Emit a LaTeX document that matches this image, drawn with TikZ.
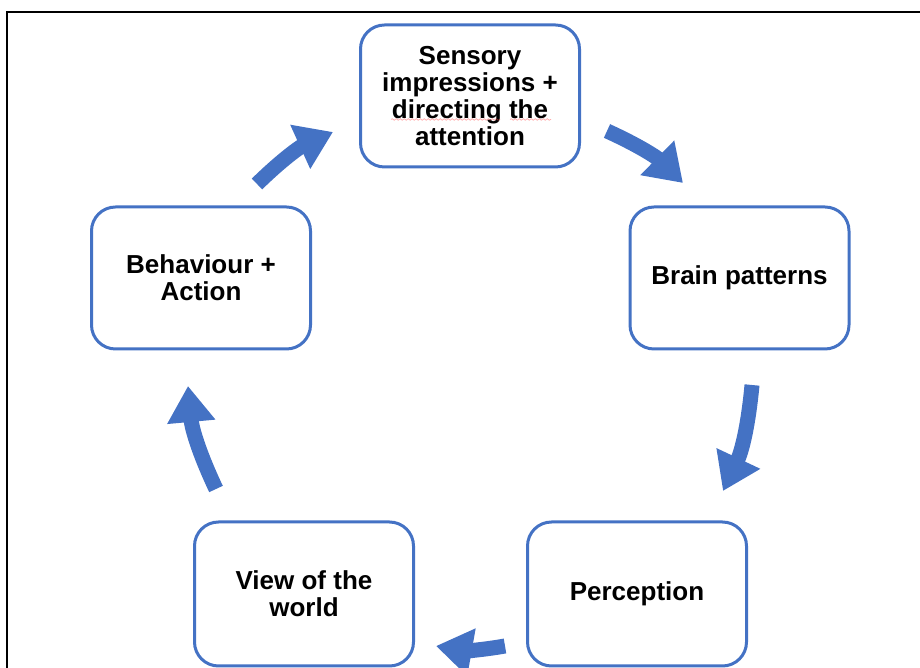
\documentclass[tikz,border=0pt]{standalone}
\usepackage{fontspec}
\setmainfont{Liberation Sans}
\usetikzlibrary{arrows.meta,decorations.pathmorphing}
\definecolor{accblue}{HTML}{4472C4}
\begin{document}
\begin{tikzpicture}[x=1pt,y=1pt,
  cyclebox/.style={draw=accblue, line width=3pt, rounded corners=24pt, fill=white,
    minimum width=219pt, minimum height=142pt, inner sep=0pt, align=center,
    font=\fontsize{26}{27}\selectfont\bfseries},
  bigarrow/.style={draw=accblue, line width=15pt,
    -{Triangle[width=46pt,length=36pt]}, bend left=10},
  spell/.style={draw=red!70, opacity=0.45, line width=0.7pt,
    decorate, decoration={snake, amplitude=0.8pt, segment length=4pt}}]
\useasboundingbox (0,0) rectangle (920,668);
\draw[line width=2pt] (7,-2) -- (7,656) -- (922,656);

\node[cyclebox] (sens) at (470,572) {Sensory\\impressions +\\directing the\\attention};
\node[cyclebox] (brain) at (739.5,390) {Brain patterns};
\node[cyclebox, minimum height=144pt] (perc) at (637,74) {Perception};
\node[cyclebox, minimum height=144pt] (view) at (304,74) {View of the\\world};
\node[cyclebox] (behav) at (201,390) {Behaviour +\\Action};

\coordinate (a1t) at (257,484); \coordinate (a1h) at (333,536);
\coordinate (a2t) at (607,537); \coordinate (a2h) at (683,485);
\coordinate (a3t) at (752,283); \coordinate (a3h) at (723,177);
\coordinate (a4t) at (505,22);  \coordinate (a4h) at (436,22);
\coordinate (a5t) at (216,179); \coordinate (a5h) at (188,282);

\draw[bigarrow] (a1t) to (a1h);
\draw[bigarrow] (a2t) to (a2h);
\draw[bigarrow] (a3t) to (a3h);
\draw[bigarrow] (a4t) to (a4h);
\draw[bigarrow] (a5t) to (a5h);

\draw[spell] (391,548.5) -- (500,548.5);
\draw[spell] (510,548.5) -- (551,548.5);
\end{tikzpicture}
\end{document}
